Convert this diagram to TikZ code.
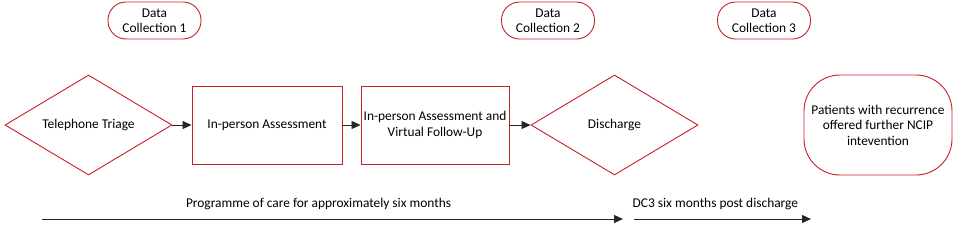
\documentclass[tikz,border=0pt]{standalone}
\usepackage{fontspec}
\setmainfont{Carlito}
\usetikzlibrary{shapes.geometric,arrows.meta}
\definecolor{bred}{RGB}{200,30,40}
\begin{document}
\begin{tikzpicture}[x=1pt,y=-1pt,
  font=\fontsize{13.4}{15.5}\selectfont,
  pill/.style={draw=bred,line width=0.9pt,rounded corners=18pt,minimum width=93pt,minimum height=37pt,inner sep=0pt,align=center},
  bigpill/.style={draw=bred,line width=0.9pt,rounded corners=36pt,minimum width=148pt,minimum height=100pt,inner sep=0pt,align=center},
  dia/.style={draw=bred,line width=0.9pt,diamond,minimum width=167pt,minimum height=100pt,inner sep=0pt,aspect=1.67,align=center},
  box/.style={draw=bred,line width=0.9pt,minimum width=150pt,minimum height=78pt,inner sep=0pt,align=center},
  conn/.style={-{Triangle[length=9pt,width=8pt]},line width=0.8pt,black!85}
]
\useasboundingbox (0,0) rectangle (958,225);
\node[pill] (dc1) at (154.5,20.5) {Data\\Collection 1};
\node[pill] (dc2) at (548,20.5) {Data\\Collection 2};
\node[pill] (dc3) at (764,20.5) {Data\\Collection 3};
\node[dia] (tri) at (88.5,125) {Telephone Triage};
\node[box] (ipa) at (267,125) {In-person Assessment};
\node[box,minimum width=148pt] (ipv) at (435,125) {In-person Assessment and\\Virtual Follow-Up};
\node[dia] (dis) at (614.5,125) {Discharge};
\node[bigpill] (pat) at (878,125) {Patients with recurrence\\offered further NCIP\\intevention};
\draw[conn] (tri.east) -- (ipa.west);
\draw[conn] (ipa.east) -- (ipv.west);
\draw[conn] (ipv.east) -- (dis.west);
\coordinate (a1) at (42,219);
\coordinate (a2) at (623,219);
\coordinate (b1) at (634,219);
\coordinate (b2) at (811,219);
\draw[conn] (a1) -- (a2) node[pos=0.476,above=5pt,black] {Programme of care for approximately six months};
\draw[conn] (b1) -- (b2) node[pos=0.46,above=5pt,black] {DC3 six months post discharge};
\end{tikzpicture}
\end{document}
